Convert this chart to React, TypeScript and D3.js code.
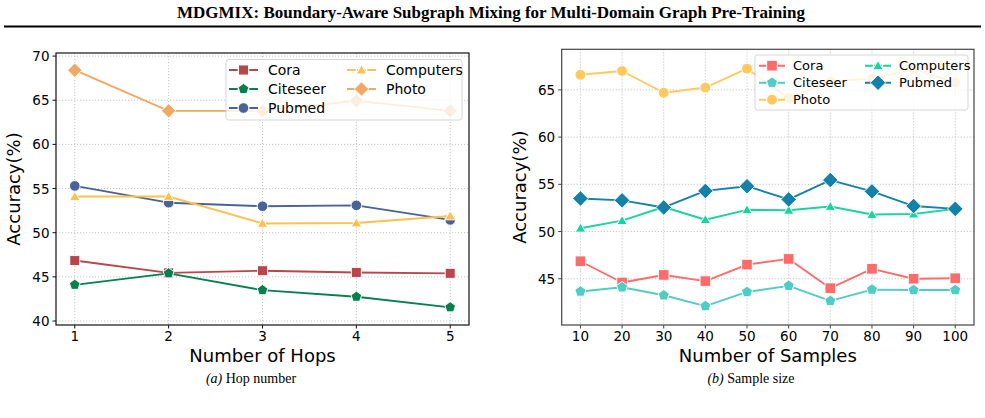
import React from "react";
import * as d3 from "d3";

// ---------- data ----------
const hops = [1, 2, 3, 4, 5];
const hopCora = [46.85, 45.45, 45.7, 45.5, 45.4];
const hopCiteseer = [44.1, 45.4, 43.5, 42.75, 41.55];
const hopPubmed = [55.3, 53.4, 53.0, 53.1, 51.45];
const hopComputers = [54.1, 54.1, 51.05, 51.1, 51.9];
const hopPhoto = [68.4, 63.8, 63.8, 64.95, 63.8];

const samples = [10, 20, 30, 40, 50, 60, 70, 80, 90, 100];
const smpCora = [46.85, 44.6, 45.4, 44.75, 46.5, 47.1, 44.0, 46.05, 45.0, 45.05];
const smpCiteseer = [43.65, 44.1, 43.25, 42.1, 43.6, 44.25, 42.65, 43.85, 43.8, 43.8];
const smpPhoto = [66.6, 67.0, 64.7, 65.25, 67.25, 64.15, 65.9, 66.2, 67.2, 65.8];
const smpComputers = [50.35, 51.15, 52.6, 51.25, 52.3, 52.25, 52.65, 51.8, 51.85, 52.4];
const smpPubmed = [53.5, 53.3, 52.55, 54.3, 54.8, 53.4, 55.45, 54.25, 52.7, 52.4];

const hopTicksY = [40, 45, 50, 55, 60, 65, 70];
const smpTicksY = [45, 50, 55, 60, 65];

type Shape = "square" | "pentagon" | "circle" | "triangle" | "diamond";

interface Series {
  name: string;
  values: number[];
  color: string;
  shape: Shape;
  size: number;
}

const hopSeries: Series[] = [
  { name: "Cora", values: hopCora, color: "#b8474d", shape: "square", size: 5 },
  { name: "Citeseer", values: hopCiteseer, color: "#087f4f", shape: "pentagon", size: 5.6 },
  { name: "Pubmed", values: hopPubmed, color: "#4a6396", shape: "circle", size: 5.3 },
  { name: "Computers", values: hopComputers, color: "#fec04f", shape: "triangle", size: 6 },
  { name: "Photo", values: hopPhoto, color: "#f1a862", shape: "diamond", size: 7.2 },
];

const smpSeries: Series[] = [
  { name: "Cora", values: smpCora, color: "#fe6b6b", shape: "square", size: 5.3 },
  { name: "Citeseer", values: smpCiteseer, color: "#4ecdc4", shape: "pentagon", size: 5.8 },
  { name: "Photo", values: smpPhoto, color: "#ffc95f", shape: "circle", size: 5.4 },
  { name: "Computers", values: smpComputers, color: "#1ad4a0", shape: "triangle", size: 6 },
  { name: "Pubmed", values: smpPubmed, color: "#1481a8", shape: "diamond", size: 7.8 },
];

// ---------- marker glyphs ----------
function markerPath(shape: Shape, r: number): string {
  const p = d3.path();
  if (shape === "circle") {
    p.arc(0, 0, r, 0, Math.PI * 2);
  } else if (shape === "square") {
    p.rect(-r, -r, 2 * r, 2 * r);
  } else if (shape === "diamond") {
    p.moveTo(0, -r);
    p.lineTo(r, 0);
    p.lineTo(0, r);
    p.lineTo(-r, 0);
    p.closePath();
  } else {
    const n = shape === "triangle" ? 3 : 5;
    for (let i = 0; i < n; i++) {
      const a = -Math.PI / 2 + (i * 2 * Math.PI) / n;
      const x = r * Math.cos(a);
      const y = r * Math.sin(a) + (shape === "triangle" ? r * 0.15 : 0);
      if (i === 0) p.moveTo(x, y);
      else p.lineTo(x, y);
    }
    p.closePath();
  }
  return p.toString();
}

// ---------- panel ----------
interface PanelProps {
  xs: number[];
  series: Series[];
  xDomain: [number, number];
  yDomain: [number, number];
  yTicks: number[];
  box: { x0: number; x1: number; y0: number; y1: number };
  spine: string;
  xLabel: string;
  yLabelX: number;
  legend: {
    x: number; y: number; w: number; h: number;
    rowH: number; firstRow: number;
    colX: number[]; handleW: number; textGap: number; fontSize: number;
    perCol: number;
  };
  lineWidth: number;
}

const SANS = "'DejaVu Sans', sans-serif";
const SERIF = "'Liberation Serif', 'Times New Roman', serif";

function Panel(props: PanelProps) {
  const { xs, series, xDomain, yDomain, yTicks, box, spine, xLabel, legend, lineWidth } = props;
  const x = d3.scaleLinear().domain(xDomain).range([box.x0, box.x1]);
  const y = d3.scaleLinear().domain(yDomain).range([box.y1, box.y0]);
  const line = d3
    .line<number>()
    .x((_, i) => x(xs[i]))
    .y((v) => y(v));

  const cx = (box.x0 + box.x1) / 2;
  const cy = (box.y0 + box.y1) / 2;

  return (
    <g>
      {/* grid */}
      {xs.map((t) => (
        <line key={"gx" + t} x1={x(t)} x2={x(t)} y1={box.y0} y2={box.y1}
          stroke="#b8b8b8" strokeWidth={0.8} strokeDasharray="1.2,1.8" />
      ))}
      {yTicks.map((t) => (
        <line key={"gy" + t} x1={box.x0} x2={box.x1} y1={y(t)} y2={y(t)}
          stroke="#b8b8b8" strokeWidth={0.8} strokeDasharray="1.2,1.8" />
      ))}

      {/* series */}
      {series.map((s) => (
        <g key={s.name}>
          <path d={line(s.values) || ""} fill="none" stroke={s.color} strokeWidth={lineWidth}
            strokeLinejoin="round" />
          {s.values.map((v, i) => (
            <path key={i} d={markerPath(s.shape, s.size)}
              transform={`translate(${x(xs[i])},${y(v)})`}
              fill={s.color} stroke="#ffffff" strokeWidth={0.9} />
          ))}
        </g>
      ))}

      {/* spines */}
      <rect x={box.x0} y={box.y0} width={box.x1 - box.x0} height={box.y1 - box.y0}
        fill="none" stroke={spine} strokeWidth={1.2} />

      {/* ticks */}
      {xs.map((t) => (
        <g key={"tx" + t}>
          <line x1={x(t)} x2={x(t)} y1={box.y1} y2={box.y1 + 3.5} stroke={spine} strokeWidth={1} />
          <text x={x(t)} y={box.y1 + 16} textAnchor="middle" fontFamily={SANS} fontSize={13.5}
            fill="#000">{t}</text>
        </g>
      ))}
      {yTicks.map((t) => (
        <g key={"ty" + t}>
          <line x1={box.x0 - 3.5} x2={box.x0} y1={y(t)} y2={y(t)} stroke={spine} strokeWidth={1} />
          <text x={box.x0 - 6.5} y={y(t) + 5} textAnchor="end" fontFamily={SANS} fontSize={13.5}
            fill="#000">{t}</text>
        </g>
      ))}

      {/* axis labels */}
      <text x={cx} y={box.y1 + 36.5} textAnchor="middle" fontFamily={SANS} fontSize={18}>{xLabel}</text>
      <text transform={`translate(${props.yLabelX},${cy}) rotate(-90)`} textAnchor="middle"
        fontFamily={SANS} fontSize={18}>Accuracy(%)</text>

      {/* legend */}
      <rect x={legend.x} y={legend.y} width={legend.w} height={legend.h} rx={2.5}
        fill="#ffffff" fillOpacity={0.8} stroke="#d0d0d0" strokeWidth={0.9} />
      {series.map((s, i) => {
        const col = Math.floor(i / legend.perCol);
        const row = i % legend.perCol;
        const hx = legend.colX[col];
        const hy = legend.firstRow + row * legend.rowH;
        return (
          <g key={"lg" + s.name}>
            <line x1={hx} x2={hx + legend.handleW} y1={hy} y2={hy} stroke={s.color} strokeWidth={lineWidth}
              strokeDasharray={`${legend.handleW * 0.3},${legend.handleW * 0.05}`} />
            <path d={markerPath(s.shape, s.size)} transform={`translate(${hx + legend.handleW / 2},${hy})`}
              fill={s.color} stroke="#ffffff" strokeWidth={0.9} />
            <text x={hx + legend.handleW + legend.textGap} y={hy + legend.fontSize * 0.36}
              fontFamily={SANS} fontSize={legend.fontSize}>{s.name}</text>
          </g>
        );
      })}
    </g>
  );
}

export default function App() {
  return (
    <svg width={985} height={418} viewBox="0 0 985 418"
      style={{ position: "absolute", left: 0, top: 0, background: "#fff" }}>
      <rect width={985} height={418} fill="#fff" />
      <text x={491} y={18} textAnchor="middle" fontFamily={SERIF} fontWeight="bold" fontSize={17}>
        MDGMIX: Boundary-Aware Subgraph Mixing for Multi-Domain Graph Pre-Training
      </text>
      <line x1={4} x2={981} y1={26.5} y2={26.5} stroke="#000" strokeWidth={1.8} />

      <Panel
        xs={hops}
        series={hopSeries}
        xDomain={[0.8, 5.2]}
        yDomain={[39.55, 70.35]}
        yTicks={hopTicksY}
        box={{ x0: 56, x1: 469, y0: 53, y1: 325 }}
        spine="#111"
        xLabel="Number of Hops"
        yLabelX={20}
        lineWidth={1.9}
        legend={{
          x: 226, y: 59.5, w: 236, h: 60.5, rowH: 19, firstRow: 70,
          colX: [229, 347], handleW: 29, textGap: 10, fontSize: 14, perCol: 3,
        }}
      />
      <Panel
        xs={samples}
        series={smpSeries}
        xDomain={[5.5, 104.5]}
        yDomain={[40.1, 69.3]}
        yTicks={smpTicksY}
        box={{ x0: 561.7, x1: 974, y0: 49.3, y1: 325 }}
        spine="#444"
        xLabel="Number of Samples"
        yLabelX={526}
        lineWidth={1.9}
        legend={{
          x: 755, y: 55, w: 213, h: 55, rowH: 17, firstRow: 65.7,
          colX: [759, 865], handleW: 26, textGap: 8, fontSize: 13, perCol: 3,
        }}
      />

      <text x={251} y={383} textAnchor="middle" fontFamily={SERIF} fontSize={14}>
        <tspan fontStyle="italic">(a)</tspan> Hop number
      </text>
      <text x={751} y={383} textAnchor="middle" fontFamily={SERIF} fontSize={14}>
        <tspan fontStyle="italic">(b)</tspan> Sample size
      </text>
    </svg>
  );
}
